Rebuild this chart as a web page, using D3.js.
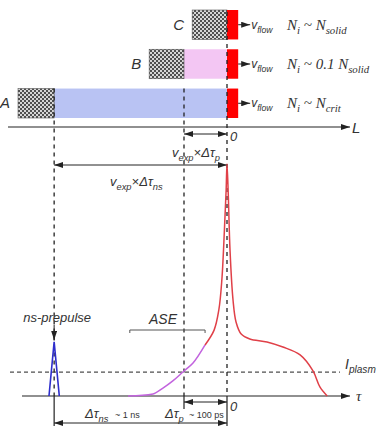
<!DOCTYPE html>
<html lang="en">
<head>
<meta charset="utf-8">
<title>Prepulse and plasma expansion</title>
<script src="https://cdn.jsdelivr.net/npm/d3@7"></script>
<style>
  body { margin: 0; background: #fff; }
  text { font-family: "Liberation Sans", Arial, sans-serif; fill: #333; }
  .serif { font-family: "Liberation Serif", "Times New Roman", serif; }
</style>
</head>
<body>
<div id="chart"></div>
<script>
// targets: hatched solid part, low density plasma part, red critical layer (tau units, 0 = main pulse)
const rows       = ["C", "B", "A"];
const solidStart = [-0.81, -1.81, -4.86];
const solidEnd   = [0, -1.0, -4.02];
const plasmaCol  = [null, "#f3c6f3", "#b9c3f3"];
const densityTxt = [["N", "i", " ~ N", "solid"], ["N", "i", " ~ 0.1 N", "solid"], ["N", "i", " ~ N", "crit"]];
const redWidth = 0.26;

// laser pulse profile (intensity in % of peak)
const aseTau = [-2.30, -1.72, -1.49, -1.26, -1.00, -0.79, -0.51];
const aseI   = [0, 0.9, 3.4, 6.5, 10.8, 14.2, 22.0];
const mainTau = [-0.51, -0.30, -0.19, -0.12, -0.06, -0.02, 0, 0.03, 0.07, 0.14, 0.21, 0.33, 0.53, 0.93, 1.30, 1.70, 2.00, 2.16, 2.33];
const mainI   = [22.0, 28.4, 37.1, 50, 71.6, 88.8, 100, 86.6, 62.9, 41.4, 31.9, 26.7, 24.6, 23.3, 21.1, 17.7, 10.8, 3.9, 0];
const preTau = [-4.14, -4.02, -3.90];
const preI   = [0, 23.3, 0];

const tauNs = -4.02, tauP = -1.0, iPlasm = 10.3;
const aseRange = [-2.26, -0.51];

const width = 378, height = 426;
const x = d3.scaleLinear().domain([-5, 3]).range([12, 356]);
const y = d3.scaleLinear().domain([0, 100]).range([396, 164]);
const row = d3.scaleBand().domain(rows).range([10, 118]).paddingInner(0.25);
const axisL = 127;

const svg = d3.select("#chart").append("svg")
  .attr("width", width).attr("height", height);

const defs = svg.append("defs");
const pat = defs.append("pattern").attr("id", "checker")
  .attr("width", 4).attr("height", 4).attr("patternUnits", "userSpaceOnUse");
pat.append("rect").attr("width", 4).attr("height", 4).attr("fill", "#d6d6d6");
pat.append("rect").attr("width", 2).attr("height", 2).attr("fill", "#505050");
pat.append("rect").attr("x", 2).attr("y", 2).attr("width", 2).attr("height", 2).attr("fill", "#505050");

defs.append("marker").attr("id", "arr")
  .attr("markerUnits", "userSpaceOnUse")
  .attr("markerWidth", 9).attr("markerHeight", 6)
  .attr("refX", 9).attr("refY", 3).attr("orient", "auto-start-reverse")
  .append("path").attr("d", "M0,0L9,3L0,6z").attr("fill", "#222");

function line(x1, y1, x2, y2, opts) {
  const l = svg.append("line")
    .attr("x1", x1).attr("y1", y1).attr("x2", x2).attr("y2", y2)
    .attr("stroke", (opts && opts.color) || "#222")
    .attr("stroke-width", (opts && opts.w) || 1);
  if (opts && opts.dash) l.attr("stroke-dasharray", opts.dash);
  if (opts && opts.end) l.attr("marker-end", "url(#arr)");
  if (opts && opts.both) l.attr("marker-end", "url(#arr)").attr("marker-start", "url(#arr)");
  return l;
}

// parts: [text, subscript, text, subscript...]
function label(px, py, parts, size, cls, anchor) {
  const t = svg.append("text").attr("x", px).attr("y", py)
    .attr("font-size", size).attr("font-style", "italic")
    .attr("text-anchor", anchor || "start");
  if (cls) t.attr("class", cls);
  parts.forEach((p, i) => {
    if (p === "") return;
    const s = t.append("tspan").text(p);
    if (i % 2 === 1) s.attr("font-size", size * 0.72).attr("dy", 4);
    else if (i > 0) s.attr("dy", -4);
  });
  return t;
}

// ---- target rows ----
rows.forEach((r, i) => {
  const y0 = row(r), h = row.bandwidth();
  if (plasmaCol[i]) {
    svg.append("rect").attr("x", x(solidEnd[i])).attr("y", y0)
      .attr("width", x(0) - x(solidEnd[i])).attr("height", h).attr("fill", plasmaCol[i]);
  }
  svg.append("rect").attr("x", x(solidStart[i])).attr("y", y0)
    .attr("width", x(solidEnd[i]) - x(solidStart[i])).attr("height", h)
    .attr("fill", "url(#checker)").attr("stroke", "#555").attr("stroke-width", 0.6);
  svg.append("rect").attr("x", x(0)).attr("y", y0)
    .attr("width", x(redWidth) - x(0)).attr("height", h).attr("fill", "#ff0000");
  line(x(redWidth), y0 + h / 2, x(redWidth) + 12, y0 + h / 2, {end: true});
  label(x(redWidth) + 13, y0 + h / 2 + 4, ["v", "flow"], 12);
  label(287, y0 + h / 2 + 5, densityTxt[i], 15, "serif");
  svg.append("text").attr("x", x(solidStart[i]) - 8).attr("y", y0 + h / 2 + 5)
    .attr("text-anchor", "end").attr("font-size", 15).attr("font-style", "italic").text(r);
});

// vertical guides
line(x(0), row("C") + 2, x(0), 396, {dash: "4,4", w: 1.3});
line(x(tauP), row("A"), x(tauP), 396, {dash: "4,4", w: 1.3});
line(x(tauNs), row("A"), x(tauNs), 396, {dash: "4,4", w: 1.3});
line(x(0), 396, x(0), 426, {w: 1.2});
line(x(tauNs), 396, x(tauNs), 426, {w: 1.2});
line(x(tauP), 396, x(tauP), 409, {w: 1.2});

// L axis
line(8, axisL, 350, axisL, {end: true, w: 1.2});
label(352, axisL + 6, ["L"], 15);
label(x(0) + 3, axisL + 14, ["0"], 13);
line(x(tauP), 134, x(0), 134, {both: true});
label(172, 157, ["v", "exp", "", "", "\u00d7\u0394\u03c4", "p"], 13);
line(x(tauNs), 165, x(0), 165, {both: true});
label(110, 186, ["v", "exp", "", "", "\u00d7\u0394\u03c4", "ns"], 13);

// plasma threshold
line(10, y(iPlasm), 340, y(iPlasm), {dash: "4,3", w: 1});
label(345, y(iPlasm) - 3, ["I", "plasm"], 14);

// tau axis
line(22, 396, 350, 396, {end: true, w: 1.2});
label(356, 401, ["\u03c4"], 15, "serif");
label(x(0) + 3, 411, ["0"], 13);

// pulse curves
const path = d3.line().x(d => x(d[0])).y(d => y(d[1])).curve(d3.curveMonotoneX);
svg.append("path").datum(d3.zip(aseTau, aseI)).attr("d", path)
  .attr("fill", "none").attr("stroke", "#c263de").attr("stroke-width", 1.5);
svg.append("path").datum(d3.zip(mainTau, mainI)).attr("d", d3.line().x(d => x(d[0])).y(d => y(d[1])).curve(d3.curveCatmullRom))
  .attr("fill", "none").attr("stroke", "#e04048").attr("stroke-width", 1.5);
svg.append("path").datum(d3.zip(preTau, preI)).attr("d", d3.line().x(d => x(d[0])).y(d => y(d[1])))
  .attr("fill", "none").attr("stroke", "#2e2ecc").attr("stroke-width", 1.6);

// annotations
label(x(tauNs) + 3, 322, ["ns-prepulse"], 13, null, "middle");
line(x(tauNs), 325, x(tauNs), y(preI[1]) - 2, {end: true});
label(163, 324, ["ASE"], 14, null, "middle");
svg.append("path")
  .attr("d", `M${x(aseRange[0])},333V330H${x(aseRange[1])}V333`)
  .attr("fill", "none").attr("stroke", "#555").attr("stroke-width", 1);

line(x(tauP), 402, x(0), 402, {both: true});
label(165, 418, ["\u0394\u03c4", "p"], 13);
svg.append("text").attr("x", 189).attr("y", 418).attr("font-size", 9).text("~ 100 ps");
line(x(tauNs), 423, x(0), 423, {both: true});
label(85, 418, ["\u0394\u03c4", "ns"], 13);
svg.append("text").attr("x", 115).attr("y", 418).attr("font-size", 9).text("~ 1 ns");
</script>
</body>
</html>
